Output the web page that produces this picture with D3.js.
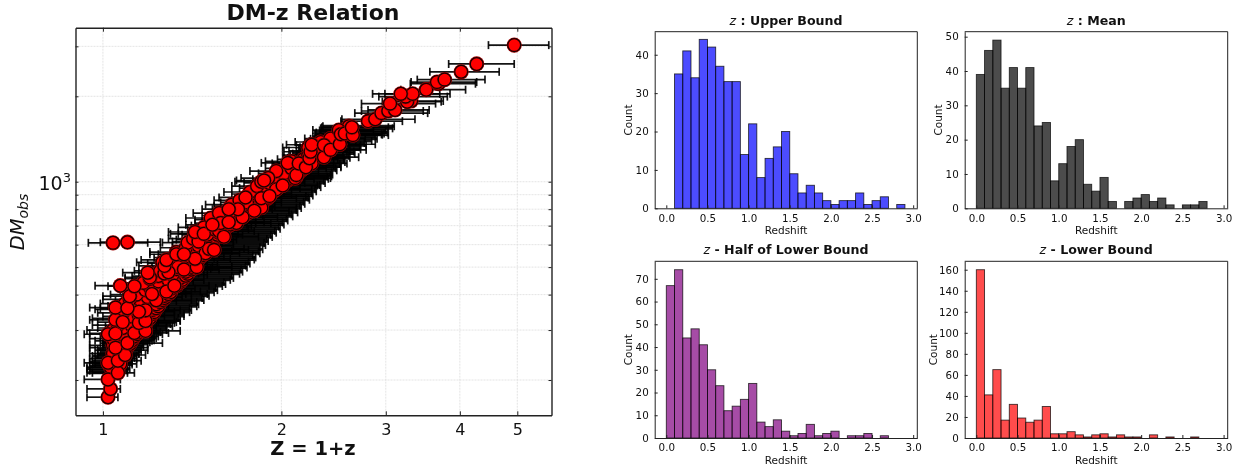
<!DOCTYPE html>
<html>
<head>
<meta charset="utf-8">
<title>DM-z Relation</title>
<script src="https://cdn.jsdelivr.net/npm/d3@7/dist/d3.min.js"></script>
<style>
  body { margin: 0; background: #fff; }
  svg { display: block; filter: blur(0.35px); }
  text { font-family: "DejaVu Sans", sans-serif; fill: #111; }
  .domain { stroke: #222; }
  .tick line { stroke: #222; }
</style>
</head>
<body>
<svg id="chart" width="1237" height="467"></svg>
<script>
// lower side of the band, these give the black wedge of error bars
var bandZ = [1.04,1.05,1.04,1.05,1.06,1.05,1.07,1.06,1.08,1.09,
  1.08,1.10,1.11,1.10,1.12,1.12,1.13,1.14,1.15,1.15,
  1.17,1.16,1.18,1.18,1.19,1.20,1.19,1.21,1.22,1.21,
  1.23,1.24,1.23,1.25,1.26,1.27,1.27,1.29,1.30,1.29,
  1.31,1.33,1.32,1.35,1.36,1.35,1.38,1.39,1.38,1.41,
  1.41,1.43,1.42,1.44,1.45,1.44,1.47,1.48,1.47,1.50,
  1.50,1.52,1.51,1.53,1.54,1.55,1.56,1.57,1.59,1.60,
  1.62,1.64,1.66,1.68,1.70,1.72,1.74,1.76,1.79,1.80,
  1.82,1.84,1.86,1.88,1.90,1.91,1.92,1.94,1.95,1.98,
  2.00,2.02,2.04,2.06,2.09,2.11,2.14,2.16,2.18,2.19,
  2.21,2.23,2.25,2.27,2.29,2.31,2.34,2.36,2.38,2.41,
  2.43,2.46,2.48,2.50,2.52,2.53,2.56,2.58,2.60];
var bandDM = [212,216,219,223,227,231,239,243,247,252,
  256,262,268,272,276,281,285,290,295,300,
  305,310,315,320,325,331,336,342,347,353,
  358,364,370,377,383,389,396,402,408,415,
  422,429,436,443,451,458,466,474,482,490,
  498,506,515,523,532,541,550,559,568,578,
  588,598,608,618,628,639,650,661,672,683,
  695,706,718,730,742,755,767,780,795,808,
  822,836,850,864,879,894,909,925,941,957,
  973,990,1007,1024,1042,1060,1078,1097,1115,1134,
  1154,1174,1194,1214,1235,1256,1278,1300,1323,1345,
  1369,1392,1416,1440,1465,1490,1516,1542,1569];
var bandLow = [0.94,0.95,0.94,0.95,0.96,0.95,0.97,0.96,0.98,0.99,
  0.98,1.00,1.00,1.00,1.01,1.01,1.02,1.03,1.04,1.04,
  1.06,1.05,1.07,1.07,1.08,1.09,1.08,1.10,1.10,1.10,
  1.11,1.12,1.11,1.13,1.14,1.15,1.15,1.17,1.18,1.17,
  1.19,1.20,1.19,1.22,1.23,1.22,1.25,1.26,1.25,1.28,
  1.28,1.29,1.29,1.30,1.31,1.30,1.33,1.34,1.33,1.36,
  1.36,1.38,1.37,1.38,1.39,1.40,1.41,1.42,1.44,1.45,
  1.47,1.48,1.50,1.52,1.54,1.56,1.57,1.59,1.62,1.63,
  1.65,1.67,1.68,1.70,1.72,1.73,1.74,1.76,1.76,1.79,
  1.81,1.83,1.85,1.86,1.89,1.91,1.94,1.95,1.97,1.98,
  2.00,2.02,2.04,2.05,2.07,2.09,2.12,2.14,2.15,2.18,
  2.20,2.23,2.24,2.26,2.28,2.29,2.32,2.33,2.35];
var bandHigh = [1.10,1.10,1.11,1.10,1.12,1.12,1.13,1.14,1.15,1.16,
  1.16,1.17,1.19,1.20,1.22,1.23,1.22,1.26,1.25,1.28,
  1.28,1.31,1.30,1.33,1.35,1.34,1.37,1.37,1.40,1.41,
  1.40,1.44,1.45,1.44,1.48,1.47,1.51,1.50,1.54,1.56,
  1.55,1.59,1.61,1.60,1.64,1.66,1.65,1.70,1.72,1.71,
  1.75,1.74,1.77,1.76,1.80,1.81,1.79,1.84,1.83,1.86,
  1.84,1.88,1.87,1.90,1.89,1.93,1.92,1.96,1.95,1.99,
  1.98,2.02,2.01,2.05,2.04,2.09,2.08,2.13,2.12,2.16,
  2.15,2.19,2.18,2.23,2.22,2.26,2.25,2.29,2.28,2.33,
  2.32,2.37,2.36,2.40,2.39,2.44,2.43,2.48,2.47,2.52,
  2.51,2.56,2.55,2.61,2.60,2.66,2.65,2.72,2.71,2.78,
  2.76,2.84,2.90,2.88,2.96,3.02,3.00,3.08,3.10];

// points packed inside the band
var midZ = [1.03,1.07,1.04,1.04,1.07,1.04,1.07,1.04,1.09,1.04,
  1.08,1.12,1.06,1.06,1.11,1.15,1.08,1.07,1.13,1.09,
  1.16,1.11,1.19,1.14,1.23,1.18,1.25,1.20,1.17,1.24,
  1.29,1.24,1.31,1.25,1.33,1.36,1.31,1.26,1.35,1.40,
  1.33,1.44,1.38,1.45,1.39,1.47,1.42,1.50,1.44,1.54,
  1.48,1.56,1.58,1.52,1.63,1.57,1.70,1.65,1.75,1.70,
  1.82,1.77,1.88,1.82,1.91,1.85,1.98,2.02,1.96,2.08,
  2.14,2.08,2.18,2.22,2.28,2.22,2.33,2.42,2.50];
var midDM = [222,228,238,248,255,265,275,280,285,300,
  305,310,312,330,335,338,345,355,365,372,
  380,385,392,400,405,415,420,425,440,445,
  450,465,470,485,492,510,515,520,540,545,
  565,570,585,595,610,625,630,650,655,680,
  690,700,735,745,760,775,820,830,845,860,
  905,920,950,965,990,1000,1020,1070,1090,1115,
  1140,1180,1200,1240,1285,1320,1380,1420,1520];
var midLow = [0.94,0.97,0.95,0.95,0.97,0.95,0.97,0.95,0.99,0.94,
  0.98,1.01,0.96,0.96,1.00,1.04,0.98,0.97,1.02,0.99,
  1.05,1.00,1.08,1.03,1.11,1.07,1.13,1.09,1.06,1.12,
  1.17,1.12,1.19,1.13,1.20,1.23,1.19,1.14,1.22,1.27,
  1.20,1.30,1.25,1.31,1.26,1.33,1.29,1.36,1.30,1.39,
  1.34,1.41,1.43,1.38,1.47,1.42,1.54,1.49,1.58,1.54,
  1.65,1.60,1.70,1.65,1.73,1.67,1.79,1.83,1.77,1.88,
  1.94,1.88,1.97,2.01,2.06,2.01,2.11,2.19,2.26];
var midHigh = [1.10,1.14,1.14,1.15,1.19,1.17,1.21,1.16,1.24,1.18,
  1.23,1.28,1.21,1.21,1.27,1.32,1.24,1.22,1.29,1.25,
  1.33,1.27,1.36,1.30,1.41,1.35,1.43,1.37,1.34,1.42,
  1.48,1.42,1.50,1.43,1.52,1.56,1.50,1.44,1.54,1.60,
  1.52,1.65,1.58,1.66,1.59,1.68,1.62,1.72,1.65,1.76,
  1.69,1.78,1.81,1.74,1.86,1.80,1.95,1.89,2.00,1.94,
  2.08,2.02,2.15,2.08,2.19,2.12,2.27,2.31,2.24,2.38,
  2.45,2.38,2.49,2.54,2.61,2.54,2.67,2.77,2.86];

// points that can be picked out on top of the band
var topZ = [1.02,1.03,1.02,1.06,1.02,1.06,1.09,1.05,1.10,1.02,
  1.05,1.13,1.18,1.15,1.18,1.05,1.08,1.18,1.15,1.05,
  1.10,1.23,1.21,1.11,1.28,1.32,1.07,1.13,1.20,1.20,
  1.19,1.27,1.34,1.29,1.37,1.44,1.27,1.49,1.43,1.28,
  1.33,1.37,1.57,1.51,1.54,1.60,1.45,1.43,1.48,1.68,
  1.58,1.53,1.63,1.85,1.80,1.72,1.69,1.63,1.96,1.85,
  1.91,1.74,1.90,1.87,2.12,2.01,2.11,2.12,2.05,2.14,
  2.25,2.20,2.23,2.24,2.25,2.36,2.36,2.42,2.51,2.52,
  2.56,2.64,2.63,2.80,2.88,2.95,3.03,3.11,3.05,3.31,
  3.26,3.24,3.33,3.18,3.51,3.68,3.66,3.77,4.02,4.27,
  4.94,1.04,1.10];
var topDM = [174,186,201,212,230,234,245,260,270,290,
  292,293,298,318,323,326,320,352,348,360,
  358,382,402,395,410,430,430,428,455,460,
  478,475,500,480,490,500,505,560,535,530,
  555,555,670,580,575,640,615,665,655,715,
  715,705,720,810,790,750,800,800,940,875,
  890,880,1030,1010,1045,970,1030,1055,1165,1160,
  1160,1125,1210,1275,1350,1220,1345,1295,1355,1470,
  1480,1460,1555,1635,1660,1745,1775,1790,1885,1925,
  1915,1995,2040,2040,2110,2215,2245,2290,2440,2600,
  3030,609,612];
var topLow = [0.94,0.94,0.93,0.96,0.93,0.96,0.98,0.95,0.99,0.93,
  0.95,1.02,1.07,1.04,1.07,0.95,0.98,1.07,1.04,0.95,
  0.99,1.11,1.10,1.00,1.16,1.19,0.97,1.02,1.09,1.09,
  1.08,1.15,1.21,1.17,1.24,1.30,1.15,1.35,1.29,1.16,
  1.20,1.24,1.42,1.37,1.39,1.45,1.31,1.29,1.34,1.52,
  1.43,1.38,1.47,1.67,1.62,1.55,1.53,1.47,1.77,1.67,
  1.72,1.57,1.71,1.68,1.91,1.81,1.90,1.92,1.85,1.93,
  2.03,1.98,2.02,2.02,2.04,2.13,2.12,2.19,2.27,2.28,
  2.33,2.38,2.34,2.52,2.53,2.66,2.73,2.80,2.73,3.00,
  2.96,2.92,2.99,2.85,3.18,3.30,3.31,3.39,3.56,3.83,
  4.47,0.945,0.99];
var topHigh = [1.06,1.07,1.07,1.13,1.12,1.16,1.18,1.19,1.26,1.17,
  1.20,1.29,1.35,1.32,1.35,1.20,1.24,1.35,1.32,1.20,
  1.26,1.41,1.38,1.27,1.46,1.51,1.23,1.29,1.37,1.37,
  1.36,1.45,1.53,1.48,1.57,1.65,1.45,1.70,1.64,1.47,
  1.52,1.57,1.80,1.73,1.76,1.83,1.66,1.64,1.69,1.92,
  1.81,1.75,1.87,2.12,2.06,1.97,1.93,1.87,2.25,2.12,
  2.20,2.00,2.18,2.15,2.43,2.30,2.42,2.42,2.35,2.45,
  2.58,2.52,2.55,2.58,2.60,2.70,2.72,2.78,2.88,2.95,
  2.98,3.03,3.03,3.20,3.36,3.53,3.47,3.55,3.64,3.75,
  3.72,3.81,3.85,3.70,4.09,4.25,4.27,4.41,4.66,4.94,
  5.65,1.19,1.25];

var xTicks = [1, 2, 3, 4, 5];
var yTicks = [200, 300, 400, 500, 600, 700, 800, 900, 1000, 2000, 3000];

// histogram counts, one per 0.1 wide bin starting at 0.0
var binStart = [0.0,0.1,0.2,0.3,0.4,0.5,0.6,0.7,0.8,0.9,1.0,1.1,1.2,1.3,1.4,1.5,1.6,1.7,1.8,1.9,2.0,2.1,2.2,2.3,2.4,2.5,2.6,2.7,2.8,2.9];
var upperCounts = [0,35,41,34,44,42,37,33,33,14,22,8,13,16,20,9,4,6,4,2,1,2,2,4,1,2,3,0,1,0];
var meanCounts = [39,46,49,35,41,35,41,24,25,8,13,18,20,7,5,9,2,0,2,3,4,2,3,1,0,1,1,2,0,0];
var halfCounts = [67,74,44,48,41,30,23,12,14,17,24,7,5,8,3,1,2,6,1,2,3,0,1,1,2,0,1,0,0,0];
var lowerCounts = [160,41,65,17,32,19,15,17,30,4,4,6,3,1,3,4,1,3,1,1,0,3,0,1,0,0,1,0,0,0];
var redshiftTicks = [0.0, 0.5, 1.0, 1.5, 2.0, 2.5, 3.0];

var svg = d3.select('#chart');

// ---- left panel ----
var left = 75.5, right = 551.5, top_ = 27.7, bottom = 415.3;

var x = d3.scaleLog().domain([0.899, 5.71]).range([left, right]);
var y = d3.scaleLog().domain([150.2, 3490]).range([bottom, top_]);

var allDM = bandDM.concat(midDM, topDM);
var allLow = bandLow.concat(midLow, topLow);
var allHigh = bandHigh.concat(midHigh, topHigh);
var points = bandZ.concat(midZ, topZ).map(function (z, i) {
  return { z: z, dm: allDM[i], lo: allLow[i], hi: allHigh[i] };
});

// grid
svg.append('g').selectAll('line')
  .data(xTicks)
  .enter().append('line')
  .attr('x1', d => x(d)).attr('x2', d => x(d))
  .attr('y1', top_).attr('y2', bottom)
  .attr('stroke', '#ddd').attr('stroke-width', 0.8).attr('stroke-dasharray', '2,1');

svg.append('g').selectAll('line')
  .data(yTicks)
  .enter().append('line')
  .attr('x1', left).attr('x2', right)
  .attr('y1', d => y(d)).attr('y2', d => y(d))
  .attr('stroke', '#ddd').attr('stroke-width', 0.8).attr('stroke-dasharray', '2,1');

// error bars under the markers, the packed lower band gets heavier lines so the wedge closes up
var bars = svg.append('g')
  .attr('stroke', '#000')
  .attr('stroke-opacity', 0.92)
  .attr('stroke-width', 1.7);

bars.selectAll('.bar-line')
  .data(points)
  .enter().append('line')
  .attr('class', 'bar-line')
  .attr('stroke-width', (d, i) => i < bandZ.length ? 3 : 1.7)
  .attr('x1', d => x(d.lo)).attr('x2', d => x(d.hi))
  .attr('y1', d => y(d.dm)).attr('y2', d => y(d.dm));

bars.selectAll('.cap-lo')
  .data(points)
  .enter().append('line')
  .attr('class', 'cap-lo')
  .attr('x1', d => x(d.lo)).attr('x2', d => x(d.lo))
  .attr('y1', d => y(d.dm) - 4).attr('y2', d => y(d.dm) + 4);

bars.selectAll('.cap-hi')
  .data(points)
  .enter().append('line')
  .attr('class', 'cap-hi')
  .attr('x1', d => x(d.hi)).attr('x2', d => x(d.hi))
  .attr('y1', d => y(d.dm) - 4).attr('y2', d => y(d.dm) + 4);

var dots = svg.append('g').selectAll('g')
  .data(points)
  .enter().append('g')
  .attr('transform', d => 'translate(' + x(d.z) + ',' + y(d.dm) + ')');

dots.append('circle')
  .attr('r', 7.6)
  .attr('fill', '#a00000');

dots.append('circle')
  .attr('r', 6.4)
  .attr('fill', '#ff0000')
  .attr('stroke', '#1a0000')
  .attr('stroke-width', 1.3);

// axes, ticks point inward
svg.append('g')
  .attr('transform', 'translate(0,' + bottom + ')')
  .call(d3.axisBottom(x).tickValues(xTicks).tickFormat(d3.format('d')).tickSize(-4).tickPadding(8).tickSizeOuter(0))
  .call(g => g.select('.domain').attr('stroke-width', 1.4))
  .selectAll('text').attr('font-size', 16).style('font-family', '"DejaVu Sans"').attr('fill', '#222');

svg.append('g')
  .attr('transform', 'translate(0,' + top_ + ')')
  .call(d3.axisTop(x).tickValues(xTicks).tickFormat('').tickSize(-4).tickSizeOuter(0))
  .call(g => g.select('.domain').attr('stroke-width', 1.4));

svg.append('g')
  .attr('transform', 'translate(' + left + ',0)')
  .call(d3.axisLeft(y).tickValues(yTicks).tickFormat('').tickSize(-3).tickSizeOuter(0))
  .call(g => g.select('.domain').attr('stroke-width', 1.4));

svg.append('g')
  .attr('transform', 'translate(' + right + ',0)')
  .call(d3.axisRight(y).tickValues(yTicks).tickFormat('').tickSize(-3).tickSizeOuter(0))
  .call(g => g.select('.domain').attr('stroke-width', 1.4));

var tenCubed = svg.append('text')
  .attr('x', 71)
  .attr('y', y(1000) + 8)
  .attr('text-anchor', 'end')
  .attr('font-size', 19);
tenCubed.append('tspan').text('10');
tenCubed.append('tspan').attr('dy', -8).attr('font-size', 13).text('3');

svg.append('text')
  .attr('x', 313).attr('y', 20)
  .attr('text-anchor', 'middle')
  .attr('font-size', 22)
  .attr('font-weight', 'bold')
  .text('DM-z Relation');

svg.append('text')
  .attr('x', 313).attr('y', 455)
  .attr('text-anchor', 'middle')
  .attr('font-size', 19.5)
  .attr('font-weight', 'bold')
  .text('Z = 1+z');

var dmLabel = svg.append('text')
  .attr('transform', 'translate(24,222) rotate(-90)')
  .attr('text-anchor', 'middle')
  .attr('font-size', 19.5)
  .attr('font-style', 'italic');
dmLabel.append('tspan').text('DM');
dmLabel.append('tspan').attr('dy', 4).attr('font-size', 14).text('obs');

// ---- histograms ----
function drawHist(counts, color, yMax, ticks, title, box, countX) {
  var hx = d3.scaleLinear().domain([-0.141, 3.05]).range([box.left, box.right]);
  var hy = d3.scaleLinear().domain([0, yMax]).range([box.bottom, box.top]);
  var g = svg.append('g');

  g.selectAll('rect')
    .data(binStart.map((s, i) => ({ start: s, count: counts[i] })).filter(d => d.count > 0))
    .enter().append('rect')
    .attr('x', d => hx(d.start))
    .attr('y', d => hy(d.count))
    .attr('width', d => hx(d.start + 0.1) - hx(d.start))
    .attr('height', d => box.bottom - hy(d.count))
    .attr('fill', color)
    .attr('fill-opacity', 0.7)
    .attr('stroke', '#000')
    .attr('stroke-opacity', 0.75)
    .attr('stroke-width', 0.9);

  g.append('g')
    .attr('transform', 'translate(0,' + box.bottom + ')')
    .call(d3.axisBottom(hx).tickValues(redshiftTicks).tickFormat(d3.format('.1f')).tickSize(-3).tickPadding(6).tickSizeOuter(0))
    .selectAll('text').attr('font-size', 10.3).style('font-family', '"DejaVu Sans"').attr('fill', '#333');

  g.append('g')
    .attr('transform', 'translate(' + box.left + ',0)')
    .call(d3.axisLeft(hy).tickValues(ticks).tickFormat(d3.format('d')).tickSize(-3).tickPadding(6).tickSizeOuter(0))
    .selectAll('text').attr('font-size', 10.3).style('font-family', '"DejaVu Sans"').attr('fill', '#333');

  // closing lines of the frame
  g.append('line').attr('x1', box.left).attr('x2', box.right).attr('y1', box.top).attr('y2', box.top).attr('stroke', '#222');
  g.append('line').attr('x1', box.right).attr('x2', box.right).attr('y1', box.top).attr('y2', box.bottom).attr('stroke', '#222');

  var cx = (box.left + box.right) / 2;
  var t = g.append('text')
    .attr('x', cx).attr('y', box.top - 7)
    .attr('text-anchor', 'middle')
    .attr('font-size', 12.6);
  t.append('tspan').attr('font-style', 'italic').text('z');
  t.append('tspan').attr('font-weight', 'bold').text(title);

  g.append('text')
    .attr('x', cx).attr('y', box.bottom + 26)
    .attr('text-anchor', 'middle')
    .attr('font-size', 10.5)
    .attr('fill', '#333')
    .text('Redshift');

  g.append('text')
    .attr('transform', 'translate(' + countX + ',' + (box.top + box.bottom) / 2 + ') rotate(-90)')
    .attr('text-anchor', 'middle')
    .attr('font-size', 10.5)
    .attr('fill', '#333')
    .text('Count');
}

var boxA = { left: 654.7, right: 917.3, top: 31.7, bottom: 208.3 };
var boxB = { left: 964.7, right: 1227.7, top: 31.7, bottom: 208.3 };
var boxC = { left: 654.7, right: 917.3, top: 261.3, bottom: 438 };
var boxD = { left: 964.7, right: 1227.7, top: 261.3, bottom: 438 };

drawHist(upperCounts, 'blue', 46, [0, 10, 20, 30, 40], ' : Upper Bound', boxA, 632);
drawHist(meanCounts, 'black', 51.45, [0, 10, 20, 30, 40, 50], ' : Mean', boxB, 942);
drawHist(halfCounts, 'purple', 77.7, [0, 10, 20, 30, 40, 50, 60, 70], ' - Half of Lower Bound', boxC, 632);
drawHist(lowerCounts, 'red', 168, [0, 20, 40, 60, 80, 100, 120, 140, 160], ' - Lower Bound', boxD, 937);
</script>
</body>
</html>
